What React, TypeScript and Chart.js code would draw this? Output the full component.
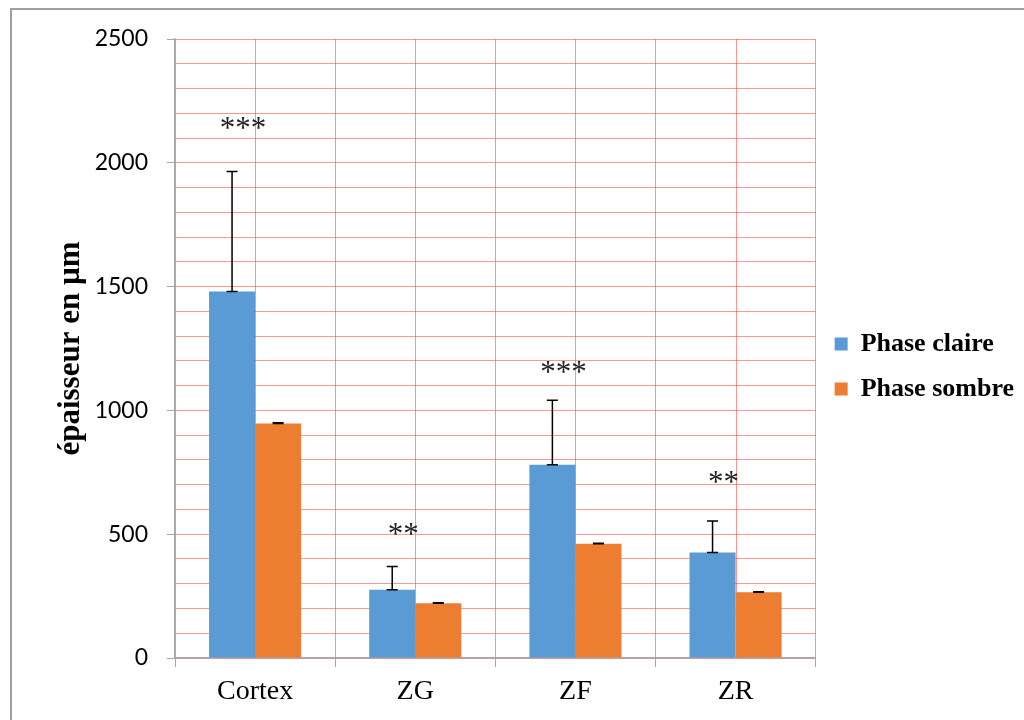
import React, { useEffect, useRef } from 'react';
import { Chart, registerables } from 'chart.js';

Chart.register(...registerables);

const categories = ['Cortex', 'ZG', 'ZF', 'ZR'];
const phaseClaire = [1480, 276, 780, 426];
const phaseClaireErr = [485, 94, 261, 127];
const phaseSombre = [947, 221, 461, 266];
const phaseSombreErr = [3, 2, 2, 2];
const starLabels = ['***', '**', '***', '**'];
const starValues = [2157, 517, 1172, 728];
const yTickLabels = [0, 500, 1000, 1500, 2000, 2500];

const RED = 'rgba(255, 60, 60, 0.55)';
const GRAY = '#a6a6a6';

export default function App() {
  const ref = useRef<HTMLCanvasElement>(null);

  useEffect(() => {
    if (!ref.current) return;
    const errors = [phaseClaireErr, phaseSombreErr];

    const midLines = {
      id: 'midLines',
      beforeDatasetsDraw(chart: any) {
        const { ctx, chartArea } = chart;
        const xs = chart.scales.x;
        ctx.save();
        ctx.strokeStyle = RED;
        ctx.lineWidth = 1;
        categories.forEach((_, i) => {
          const x = Math.round(xs.getPixelForValue(i)) + 0.5;
          ctx.beginPath();
          ctx.moveTo(x, chartArea.top);
          ctx.lineTo(x, chartArea.bottom);
          ctx.stroke();
        });
        ctx.restore();
      },
    };

    const errorBars = {
      id: 'errorBars',
      afterDatasetsDraw(chart: any) {
        const { ctx } = chart;
        const ys = chart.scales.y;
        ctx.save();
        ctx.strokeStyle = '#000';
        ctx.lineWidth = 1.5;
        chart.data.datasets.forEach((ds: any, d: number) => {
          const meta = chart.getDatasetMeta(d);
          meta.data.forEach((bar: any, i: number) => {
            const v = ds.data[i];
            const yb = ys.getPixelForValue(v);
            const yt = ys.getPixelForValue(v + errors[d][i]);
            const x = bar.x;
            const cap = 5.5;
            ctx.beginPath();
            ctx.moveTo(x, yb);
            ctx.lineTo(x, yt);
            ctx.moveTo(x - cap, yt);
            ctx.lineTo(x + cap, yt);
            ctx.moveTo(x - cap, yb);
            ctx.lineTo(x + cap, yb);
            ctx.stroke();
          });
        });
        // significance stars
        const meta0 = chart.getDatasetMeta(0);
        ctx.fillStyle = '#222';
        ctx.font = '31px "Liberation Serif"';
        ctx.textAlign = 'center';
        ctx.textBaseline = 'alphabetic';
        starLabels.forEach((s, i) => {
          const x = meta0.data[i].x + 11;
          const y = ys.getPixelForValue(starValues[i]);
          ctx.fillText(s, x, y + 14);
        });
        ctx.restore();
      },
    };

    const chart = new Chart(ref.current, {
      type: 'bar',
      data: {
        labels: categories,
        datasets: [
          {
            label: 'Phase claire',
            data: phaseClaire,
            backgroundColor: '#5b9bd5',
            barPercentage: 1,
            categoryPercentage: 0.575,
          },
          {
            label: 'Phase sombre',
            data: phaseSombre,
            backgroundColor: '#ed7d31',
            barPercentage: 1,
            categoryPercentage: 0.575,
          },
        ],
      },
      options: {
        responsive: false,
        animation: false,
        layout: { padding: { left: 0, top: 39, right: 0, bottom: 0 } },
        plugins: {
          tooltip: { enabled: false },
          legend: {
            position: 'right',
            fullSize: false,
            title: {
              display: true,
              text: '',
              font: { size: 10 },
              padding: { top: 24, bottom: 0 },
            },
            labels: {
              boxWidth: 13,
              boxHeight: 13,
              padding: 19,
              color: '#000',
              font: { family: 'Liberation Serif', size: 26, weight: 'bold' },
            },
          },
        },
        scales: {
          x: {
            offset: true,
            grid: {
              offset: true,
              color: RED,
              lineWidth: 1,
              tickColor: GRAY,
              tickLength: 9,
            },
            border: { color: GRAY, width: 1.5 },
            ticks: {
              color: '#000',
              padding: 8,
              font: { family: 'Liberation Serif', size: 28 },
            },
            afterFit(scale: any) {
              scale.height = 62;
            },
          },
          y: {
            min: 0,
            max: 2500,
            grid: {
              color: RED,
              lineWidth: 1,
              tickLength: 8,
              tickColor: (c: any) => (c.tick && c.tick.value % 500 === 0 ? GRAY : 'rgba(0,0,0,0)'),
            },
            border: { color: GRAY, width: 1.5 },
            ticks: {
              stepSize: 100,
              maxTicksLimit: 100,
              autoSkip: false,
              padding: 19,
              color: '#000',
              font: { family: 'Lato', size: 23 },
              callback: (v: any) => (yTickLabels.includes(Number(v)) ? String(v) : ''),
            },
            title: {
              display: true,
              text: 'épaisseur en µm',
              color: '#000',
              padding: { top: 52, bottom: 0 },
              font: { family: 'Liberation Serif', size: 31, weight: 'bold' },
            },
            afterFit(scale: any) {
              scale.width = 175;
            },
          },
        },
      },
      plugins: [midLines, errorBars],
    });
    return () => chart.destroy();
  }, []);

  return (
    <div>
      <div
        style={{
          position: 'fixed',
          left: 10,
          top: 8,
          width: 2000,
          height: 2000,
          border: '2px solid #a0a0a0',
        }}
      />
      <div style={{ position: 'fixed', left: 0, top: 0, width: 1024, height: 720 }}>
        <canvas ref={ref} width={1024} height={720} style={{ display: 'block' }} />
      </div>
    </div>
  );
}
